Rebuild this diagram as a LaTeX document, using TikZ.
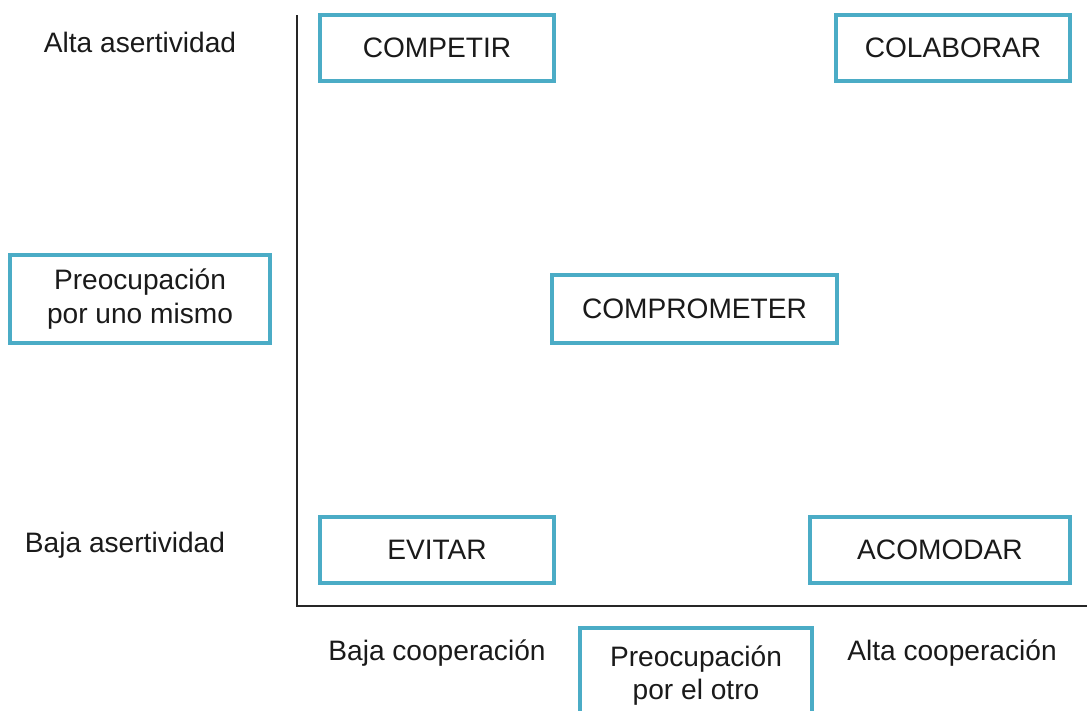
\documentclass[tikz,border=0pt]{standalone}
\usepackage{fontspec}
\setmainfont{Liberation Sans}
\definecolor{teal}{HTML}{4BACC6}
\definecolor{txt}{HTML}{1A1A1A}
\begin{document}
\begin{tikzpicture}[x=0.02cm,y=-0.02cm,
  box/.style={draw=teal,line width=2.3pt,fill=white,text=txt,font=\fontsize{16}{19}\selectfont,align=center,inner sep=0pt},
  lab/.style={text=txt,font=\fontsize{16}{19}\selectfont,align=center,inner sep=0pt}]
\useasboundingbox (0,0) rectangle (1087,710);
\clip (0,0) rectangle (1087,710);
% axes
\coordinate (top) at (297,15);
\coordinate (orig) at (297,606);
\coordinate (right) at (1087,606);
\draw[line width=1pt,black!85] (top) -- (orig) -- (right);
% boxes
\node[box,minimum width=234*0.02cm,minimum height=66*0.02cm] (competir) at (437,48) {COMPETIR};
\node[box,minimum width=234*0.02cm,minimum height=66*0.02cm] (colaborar) at (953,48) {COLABORAR};
\node[box,minimum width=260*0.02cm,minimum height=88*0.02cm] (mismo) at (140,299) {Preocupación\\por uno mismo};
\node[box,minimum width=285*0.02cm,minimum height=68*0.02cm] (comprometer) at (694.5,309) {COMPROMETER};
\node[box,minimum width=234*0.02cm,minimum height=66*0.02cm] (evitar) at (437,550) {EVITAR};
\node[box,minimum width=260*0.02cm,minimum height=66*0.02cm] (acomodar) at (940,550) {ACOMODAR};
\node[box,minimum width=232*0.02cm,minimum height=110*0.02cm,anchor=north] (otro) at (696,626) {};
\node[lab,anchor=north] (otrotxt) at (696,645) {Preocupación\\por el otro};
% labels
\node[lab] (alta) at (140,42) {Alta asertividad};
\node[lab] (baja) at (125,545) {Baja asertividad};
\node[lab] (bcoop) at (437,653) {Baja cooperación};
\node[lab] (acoop) at (952,653) {Alta cooperación};
\end{tikzpicture}
\end{document}
